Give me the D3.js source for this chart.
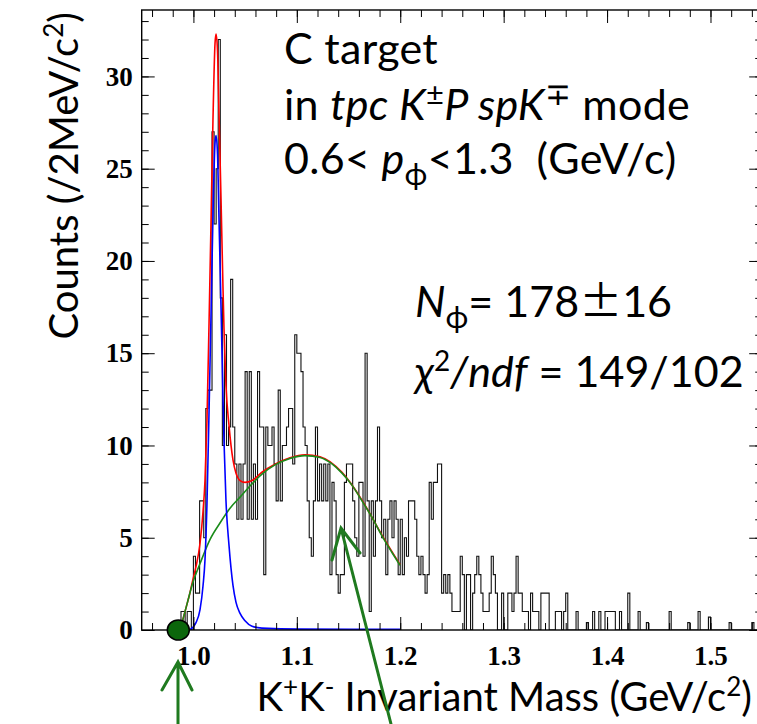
<!DOCTYPE html>
<html>
<head>
<meta charset="utf-8">
<script src="https://cdn.jsdelivr.net/npm/d3@7"></script>
<style>
  html, body { margin: 0; padding: 0; background: #fff; }
  svg { display: block; }
  text { white-space: pre; }
</style>
</head>
<body>
<svg id="chart" width="757" height="724"></svg>
<script>
// K+K- invariant mass spectrum, C target, 2 MeV/c^2 bins starting at 0.986 GeV/c^2
const binStart = 0.986;
const binWidth = 0.002;
const counts = [
  0,1,1,0,1,1,0,4,2,2,
  7,7,5,12,13,13,27,22,25,32,
  18,10,16,10,11,19,11,9,6,9,
  6,9,14,6,14,6,9,6,14,11,
  11,3,11,10,10,11,9,7,13,7,
  10,10,11,12,12,9,16,15,15,14,
  11,10,7,5,4,7,11,7,9,7,
  9,7,9,3,8,7,3,2,3,3,
  8,9,9,9,7,5,4,8,8,4,
  15,7,1,7,4,7,11,7,5,6,
  3,6,7,5,7,6,3,6,3,5,
  4,7,7,7,6,4,3,4,3,2,
  3,8,6,8,8,9,9,2,3,2,
  3,2,1,1,1,1,4,3,0,3,
  3,0,2,3,4,3,2,1,1,1,
  2,4,3,2,0,0,2,0,0,2,
  2,1,2,4,2,2,1,1,1,0,
  2,1,1,1,0,2,2,2,2,0,
  0,0,1,1,1,0,1,2,0,0,
  0,0,1,0,0,0,0,0.4,0,0,
  1,0,0,1,0,0,1,1,1,1,
  1,0,0,1,0,0,0,2,0,0,
  0,0,1,0,0,0,0.4,0,0,0,
  0,0,0,0,0,0,0,1,0,0,
  0,0,0,0,0,0,0.4,0,0,0,
  0,1,0,0,0,0,0.7,0,0,0,
  0,0,0,0,0,0,0.4,0,0,0,
  0,0,0,0,0,0,0,0.4,0,0,0,0
];

// Fit components sampled along the mass axis: [mass, counts]
const phiSignal = [
  [0.9957,0],[0.9996,0.15],[1.0025,0.4],[1.0064,1.1],[1.0093,2.4],[1.0112,3.8],
  [1.0131,6.8],[1.0151,11.8],[1.0170,17.0],[1.0189,22.4],[1.0209,26.4],[1.0219,26.8],
  [1.0233,25.8],[1.0247,22.4],[1.0267,17.5],[1.0286,12.6],[1.0296,10.2],[1.0315,7.0],
  [1.0344,4.6],[1.0383,2.4],[1.0412,1.5],[1.0451,0.9],[1.0499,0.5],[1.0567,0.2],
  [1.0663,0.1],[1.1031,0.05],[1.1998,0.04]
];
const background = [
  [0.9890,0.4],[0.9938,1.4],[0.9996,2.6],[1.0064,3.6],[1.0160,4.9],[1.0257,5.8],
  [1.0354,6.6],[1.0451,7.2],[1.0547,7.8],[1.0663,8.45],[1.0789,8.95],[1.0934,9.3],
  [1.1079,9.45],[1.1224,9.35],[1.1340,9.0],[1.1437,8.5],[1.1533,7.85],[1.1630,7.0],
  [1.1727,6.1],[1.1823,5.1],[1.1920,4.2],[1.1998,3.5]
];
const totalFit = [
  [0.9890,0.4],[0.9938,1.4],[0.9957,1.8],[0.9996,2.75],[1.0025,3.43],[1.0064,4.7],
  [1.0093,6.42],[1.0112,8.1],[1.0131,11.35],[1.0151,16.6],[1.0170,22.0],[1.0189,27.6],
  [1.0209,31.8],[1.0219,32.3],[1.0233,31.4],[1.0247,28.1],[1.0267,23.35],[1.0286,18.55],
  [1.0296,16.3],[1.0315,13.25],[1.0344,11.1],[1.0383,9.2],[1.0412,8.5],[1.0451,8.1],
  [1.0499,8.0],[1.0567,8.1],[1.0663,8.55],[1.0789,8.98],[1.0934,9.33],[1.1079,9.49],
  [1.1224,9.39],[1.1437,8.54],[1.1630,7.04],[1.1823,5.14],[1.1998,3.54]
];

const xDomain = [0.95, 1.55];
const yDomain = [0, 33.6];
const xMajorTicks = [1.0, 1.1, 1.2, 1.3, 1.4, 1.5];
const yMajorTicks = [0, 5, 10, 15, 20, 25, 30];
const thresholdMass = 0.9854;

const svg = d3.select("#chart");
const frame = { left: 141.7, right: 762.2, top: 10, bottom: 630 };

const x = d3.scaleLinear().domain(xDomain).range([frame.left, frame.right]);
const y = d3.scaleLinear().domain(yDomain).range([frame.bottom, frame.top]);

svg.append("rect").attr("width", 757).attr("height", 724).attr("fill", "#fff");

svg.append("defs").append("clipPath").attr("id", "plotClip")
  .append("rect")
  .attr("x", frame.left).attr("y", frame.top)
  .attr("width", frame.right - frame.left).attr("height", frame.bottom - frame.top);

const plot = svg.append("g").attr("clip-path", "url(#plotClip)");

// histogram outline
const bins = counts.map((n, i) => ({ x0: binStart + i * binWidth, n }));
const stepPts = bins.map(b => [b.x0, b.n]);
stepPts.push([binStart + counts.length * binWidth, counts[counts.length - 1]]);
const stepLine = d3.line().x(d => x(d[0])).y(d => y(d[1])).curve(d3.curveStepAfter);
plot.append("path")
  .attr("d", stepLine(stepPts))
  .attr("fill", "none")
  .attr("stroke", "#111")
  .attr("stroke-width", 1.1);

// fit curves
const fitLine = d3.line().x(d => x(d[0])).y(d => y(d[1])).curve(d3.curveMonotoneX);
plot.append("path").attr("d", fitLine(totalFit))
  .attr("fill", "none").attr("stroke", "#ff0000").attr("stroke-width", 1.6);
plot.append("path").attr("d", fitLine(background))
  .attr("fill", "none").attr("stroke", "#1a8c1a").attr("stroke-width", 1.6);
plot.append("path").attr("d", fitLine(phiSignal))
  .attr("fill", "none").attr("stroke", "#0000ff").attr("stroke-width", 1.6);

// axes: ticks point into the frame
const xMinorTicks = d3.range(0.96, 1.5501, 0.02).map(v => +v.toFixed(2));
const yMinorTicks = d3.range(0, 34, 1);
const labelFont = "'Liberation Serif', 'Times New Roman', serif";

function styleAxis(g) {
  g.select(".domain").remove();
  g.selectAll(".tick line").attr("stroke", "#000").attr("stroke-width", 1);
}

svg.append("g").attr("transform", `translate(0,${frame.bottom})`)
  .call(d3.axisBottom(x).tickValues(xMinorTicks).tickSize(-7).tickFormat(""))
  .call(styleAxis);
const xAxisG = svg.append("g").attr("transform", `translate(0,${frame.bottom})`)
  .call(d3.axisBottom(x).tickValues(xMajorTicks).tickSize(-13).tickPadding(16)
    .tickFormat(d3.format(".1f")))
  .call(styleAxis);
xAxisG.selectAll("text")
  .attr("font-family", labelFont).attr("font-weight", "bold")
  .attr("font-size", 27).attr("fill", "#000");

svg.append("g").attr("transform", `translate(0,${frame.top})`)
  .call(d3.axisTop(x).tickValues(xMinorTicks).tickSize(-7).tickFormat(""))
  .call(styleAxis);
svg.append("g").attr("transform", `translate(0,${frame.top})`)
  .call(d3.axisTop(x).tickValues(xMajorTicks).tickSize(-13).tickFormat(""))
  .call(styleAxis);

svg.append("g").attr("transform", `translate(${frame.left},0)`)
  .call(d3.axisLeft(y).tickValues(yMinorTicks).tickSize(-7).tickFormat(""))
  .call(styleAxis);
const yAxisG = svg.append("g").attr("transform", `translate(${frame.left},0)`)
  .call(d3.axisLeft(y).tickValues(yMajorTicks).tickSize(-13).tickPadding(9)
    .tickFormat(d3.format("d")))
  .call(styleAxis);
yAxisG.selectAll("text")
  .attr("font-family", labelFont).attr("font-weight", "bold")
  .attr("font-size", 27).attr("fill", "#000");

svg.append("g").attr("transform", `translate(${frame.right},0)`)
  .call(d3.axisRight(y).tickValues(yMinorTicks).tickSize(-7).tickFormat(""))
  .call(styleAxis);
svg.append("g").attr("transform", `translate(${frame.right},0)`)
  .call(d3.axisRight(y).tickValues(yMajorTicks).tickSize(-13).tickFormat(""))
  .call(styleAxis);

// frame
svg.append("rect")
  .attr("x", frame.left).attr("y", frame.top)
  .attr("width", frame.right - frame.left).attr("height", frame.bottom - frame.top)
  .attr("fill", "none").attr("stroke", "#000").attr("stroke-width", 1.4);

// rich text helper: parts are {t, i (italic), s (size factor), dy (px), f (font)}
const sansFont = "Lato, 'Open Sans', sans-serif";
function richText(parent, px, py, size, parts, anchor, spacing) {
  const t = parent.append("text")
    .attr("x", px).attr("y", py)
    .attr("font-family", sansFont).attr("font-size", size)
    .attr("fill", "#000")
    .attr("letter-spacing", spacing || 0)
    .attr("text-anchor", anchor || "start");
  parts.forEach(p => {
    const ts = t.append("tspan").text(p.t);
    if (p.i) ts.attr("font-style", "italic");
    if (p.s) ts.attr("font-size", size * p.s);
    if (p.dy) ts.attr("dy", p.dy);
    if (p.f) ts.attr("font-family", p.f);
  });
  return t;
}

const fs = 43;
const ls = 0.3;
richText(svg, 284, 64, fs, [{ t: "C target" }], "start", ls);
richText(svg, 284, 120, fs, [
  { t: "in " }, { t: "tpc K", i: true },
  { t: "\u00B1", s: 0.72, dy: -15 },
  { t: "P spK", i: true, dy: 15 },
  { t: "\u2213", s: 0.72, dy: -15 },
  { t: " mode", dy: 15 }
], "start", ls);
richText(svg, 284, 174, fs, [
  { t: "0.6< " }, { t: "p", i: true },
  { t: "\u03D5", s: 0.72, dy: 11 },
  { t: "<1.3  (GeV/c)", dy: -11 }
], "start", ls);
richText(svg, 415, 317, fs, [
  { t: "N", i: true },
  { t: "\u03D5", s: 0.72, dy: 11 },
  { t: "= 178", dy: -11 },
  { t: "\u00B1", f: "'Noto Sans CJK JP', sans-serif" },
  { t: "16" }
], "start", 0);
richText(svg, 415, 387, fs, [
  { t: "\u03C7", i: true },
  { t: "2", s: 0.65, dy: -16 },
  { t: "/ndf", i: true, dy: 16 },
  { t: " = 149/102" }
], "start", 0);

// axis titles
const ts = 40;
richText(svg, 752, 711, ts, [
  { t: "K" }, { t: "+", s: 0.65, dy: -15 },
  { t: "K", dy: 15 }, { t: "-", s: 0.65, dy: -15 },
  { t: " Invariant Mass (GeV/c", dy: 15 },
  { t: "2", s: 0.65, dy: -15 },
  { t: ")", dy: 15 }
], "end");

const yTitle = svg.append("g").attr("transform", "translate(78,12) rotate(-90)");
richText(yTitle, 0, 0, ts, [
  { t: "Counts (/2MeV/c" },
  { t: "2", s: 0.65, dy: -15 },
  { t: ")", dy: 15 }
], "end");

// markers: threshold point and pointer arrows
svg.append("ellipse")
  .attr("cx", x(thresholdMass)).attr("cy", y(0))
  .attr("rx", 11).attr("ry", 10)
  .attr("fill", "#0b660b").attr("stroke", "#000").attr("stroke-width", 1.5);

const arrowColor = "#1f7a1f";
const arrows = svg.append("g").attr("fill", "none")
  .attr("stroke", arrowColor).attr("stroke-width", 3)
  .attr("stroke-linecap", "round").attr("stroke-linejoin", "miter");
arrows.append("path").attr("d", "M178,724 L178,662 M162,690 L178,662 L192,690");
arrows.append("path").attr("d", "M391,724 L341,528 M332,560 L341,528 L360,553");
</script>
</body>
</html>
